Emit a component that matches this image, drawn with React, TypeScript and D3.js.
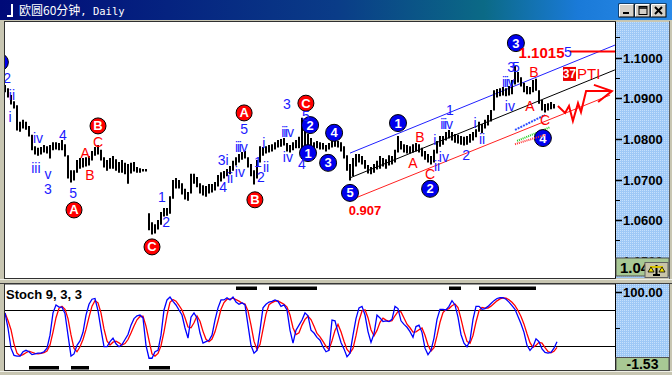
import React from "react";
import * as d3 from "d3";

// ---------- DATA ----------
// hourly bars (high / low), index 0..183
const highs = [
  1.0933,1.0925,1.0908,1.0893,1.0883,1.0842,1.0847,1.0842,1.0832,1.0810,
  1.0782,1.0778,1.0780,1.0785,1.0782,1.0785,1.0792,1.0792,1.0790,1.0797,
  1.0787,1.0760,1.0723,1.0723,1.0748,1.0753,1.0753,1.0755,1.0758,1.0770,
  1.0780,1.0785,1.0773,1.0755,1.0748,1.0753,1.0758,1.0750,1.0743,1.0748,
  1.0741,1.0738,1.0741,1.0743,1.0731,1.0728,1.0726,1.0726,
  1.0617,1.0595,1.0590,1.0600,1.0620,1.0630,1.0630,1.0659,1.0699,1.0704,
  1.0699,1.0691,1.0677,1.0669,1.0714,1.0714,1.0706,1.0691,1.0686,1.0684,
  1.0689,1.0689,1.0694,1.0711,1.0718,1.0721,1.0726,1.0733,1.0746,1.0755,
  1.0763,1.0768,1.0770,1.0755,1.0738,1.0723,1.0748,1.0782,1.0780,1.0782,
  1.0785,1.0787,1.0792,1.0797,1.0800,1.0802,1.0790,1.0785,1.0792,1.0797,
  1.0805,1.0852,1.0834,1.0812,1.0802,1.0792,1.0795,1.0792,1.0790,1.0785,
  1.0790,1.0795,1.0797,1.0795,1.0792,1.0782,1.0760,1.0738,1.0753,1.0763,
  1.0763,1.0758,1.0748,1.0736,1.0731,1.0738,1.0746,1.0758,1.0753,1.0750,
  1.0760,1.0758,1.0773,1.0807,1.0795,1.0787,1.0785,1.0782,1.0787,1.0790,
  1.0787,1.0778,1.0770,1.0763,1.0758,1.0773,1.0795,1.0807,1.0807,1.0817,
  1.0822,1.0817,1.0812,1.0810,1.0807,1.0805,1.0807,1.0812,1.0817,1.0824,
  1.0842,1.0837,1.0847,1.0859,1.0871,1.0920,1.0923,1.0925,1.0928,1.0925,
  1.0930,1.0945,1.0980,1.0965,1.0952,1.0938,1.0930,1.0928,1.0945,1.0948,
  1.0920,1.0896,1.0886,1.0888,1.0891,1.0886,
];
const lows = [
  1.0916,1.0903,1.0886,1.0876,1.0822,1.0819,1.0827,1.0824,1.0807,1.0773,
  1.0763,1.0760,1.0763,1.0768,1.0765,1.0753,1.0773,1.0775,1.0773,1.0773,
  1.0758,1.0704,1.0694,1.0699,1.0718,1.0728,1.0731,1.0733,1.0736,1.0748,
  1.0760,1.0763,1.0748,1.0731,1.0723,1.0728,1.0728,1.0723,1.0718,1.0718,
  1.0714,1.0691,1.0716,1.0721,1.0718,1.0718,1.0721,1.0721,
  1.0576,1.0566,1.0568,1.0578,1.0590,1.0610,1.0612,1.0617,1.0654,1.0679,
  1.0679,1.0664,1.0652,1.0649,1.0667,1.0691,1.0682,1.0667,1.0662,1.0659,
  1.0667,1.0669,1.0674,1.0684,1.0696,1.0704,1.0709,1.0714,1.0723,1.0736,
  1.0743,1.0750,1.0753,1.0731,1.0709,1.0689,1.0704,1.0743,1.0760,1.0765,
  1.0768,1.0770,1.0775,1.0780,1.0782,1.0785,1.0770,1.0768,1.0773,1.0778,
  1.0778,1.0773,1.0785,1.0782,1.0780,1.0773,1.0778,1.0775,1.0775,1.0770,
  1.0775,1.0780,1.0782,1.0780,1.0770,1.0753,1.0723,1.0699,1.0709,1.0733,
  1.0743,1.0738,1.0728,1.0716,1.0714,1.0718,1.0726,1.0728,1.0733,1.0728,
  1.0736,1.0738,1.0743,1.0768,1.0775,1.0768,1.0765,1.0765,1.0768,1.0770,
  1.0768,1.0758,1.0750,1.0743,1.0738,1.0743,1.0765,1.0782,1.0787,1.0797,
  1.0802,1.0797,1.0792,1.0790,1.0787,1.0785,1.0787,1.0792,1.0797,1.0805,
  1.0819,1.0815,1.0827,1.0834,1.0844,1.0871,1.0903,1.0906,1.0908,1.0906,
  1.0908,1.0911,1.0935,1.0940,1.0930,1.0916,1.0911,1.0911,1.0916,1.0920,
  1.0888,1.0871,1.0866,1.0871,1.0874,1.0876,
];
// Stochastic %K (9,3,3), index 0..184
const stochK = [
  71,50,22,12,11,11,17,19,17,13,
  14,15,15,17,22,40,71,82,79,79,
  70,40,11,14,26,32,44,68,83,90,
  91,74,48,24,24,31,36,28,24,27,
  34,41,54,63,67,68,64,26,8,8,
  17,19,40,75,89,93,87,82,75,68,
  50,36,65,71,64,43,29,31,33,40,
  61,78,89,89,92,89,93,86,83,85,
  82,54,26,15,19,47,78,83,86,87,
  89,87,80,82,75,47,29,47,54,61,
  71,67,47,43,37,33,24,17,19,61,
  60,44,30,21,10,15,40,63,78,80,
  68,45,30,42,68,64,59,60,59,62,
  80,77,60,55,51,45,37,52,54,44,
  22,13,19,36,62,76,76,75,80,88,
  82,65,41,29,24,33,62,80,80,76,
  77,80,84,88,91,92,92,90,86,81,
  76,66,56,44,26,19,24,35,31,21,
  16,15,16,22,31,
];
const stochLevels = [75, 25];
const overboughtRuns = [[77, 84], [88, 104], [148, 152], [158, 177]];
const oversoldRuns = [[8, 18], [22, 28], [48, 55]];

const priceTicks = [1.05, 1.06, 1.07, 1.08, 1.09, 1.10];
const priceMinorTicks = [1.055, 1.065, 1.075, 1.085, 1.095, 1.105];
const lastPriceLabel = "1.04";
const stochTopLabel = "100.00";
const stochBottomLabel = "-1.53";

// wave labels: [barIndex, price, text]  (overprinted labels are written as one squeezed string)
const blueLabels: [number, number, string][] = [
  [0.7, 1.0950, "2"], [2.3, 1.0908, "ii"], [1.7, 1.0854, "i"], [11, 1.0802, "iv"],
  [19.3, 1.0810, "4"], [10.3, 1.0728, "iii"], [14.3, 1.0714, "v"], [14.3, 1.0676, "3"],
  [22.7, 1.0667, "5"], [52.3, 1.0657, "1"], [53.7, 1.0595, "2"], [72.7, 1.0748, "3i"],
  [75, 1.0704, "ii"], [72.7, 1.0682, "4"], [78.3, 1.0718, "iv"], [78.6, 1.0780, "iiiv"],
  [79.7, 1.0824, "5"], [84.3, 1.0743, "1"], [85.3, 1.0706, "2"],
  [87, 1.0731, "ii"], [86.3, 1.0790, "i"], [94.3, 1.0755, "iv"], [94, 1.0817, "iiiv"],
  [94, 1.0886, "3"], [100.3, 1.0856, "5"], [99, 1.0738, "4"],
  [144, 1.0733, "ii"], [146.3, 1.0755, "iv"], [143.3, 1.0797, "i"], [147, 1.0837, "iiiv"],
  [148.3, 1.0871, "1"], [153.7, 1.0760, "2"], [156.7, 1.0839, "i"],
  [159, 1.0800, "ii"], [167.6, 1.0940, "iiiv"], [168.3, 1.0881, "iv"],
  [169, 1.0976, "35"], [187.6, 1.1014, "5"],
];
const redLabels: [number, number, string][] = [
  [26.7, 1.0765, "A"], [28.3, 1.0711, "B"], [31, 1.0792, "C"],
  [138.3, 1.0805, "B"], [136, 1.0741, "A"], [141.7, 1.0714, "C"],
  [175, 1.0881, "A"], [176.3, 1.0965, "B"], [180, 1.0847, "C"],
];
const redCircles: [number, number, string][] = [
  [23, 1.0625, "A"], [31, 1.0832, "B"], [49, 1.0534, "C"],
  [79.7, 1.0864, "A"], [83.3, 1.0650, "B"], [100.3, 1.0888, "C"],
];
const blueCircles: [number, number, string][] = [
  [-1.7, 1.0989, "1"], [101.7, 1.0834, "2"], [101, 1.0765, "1"], [109.7, 1.0815, "4"],
  [107.7, 1.0741, "3"], [115, 1.0667, "5"], [131, 1.0839, "1"], [141.7, 1.0677, "2"],
  [170.3, 1.1036, "3"], [179.3, 1.0802, "4"],
];
const ratioLabel: [number, number, string] = [120, 1.0625, "0.907"];
const targetLabel: [number, number, string] = [171.2, 1.1014, "1.1015"];
const targetLevel = 1.1015;
const targetLevelStart = 188.3;
const ptiLabel: [number, number, string, string] = [186, 1.0960, "37", "PTI"];

// trend channel: [i0, p0, i1, p1]
const channelUpper = [115, 1.0765, 203.3, 1.1031];
const channelMid = [115, 1.0704, 203.3, 1.0970];
const channelLower = [116, 1.0652, 201.7, 1.0908];
// projected path
const projection: [number, number][] = [
  [184.3, 1.0881], [186.7, 1.0864], [188, 1.0881], [189.3, 1.0844], [191, 1.0888],
  [192, 1.0866], [193.7, 1.0918], [202.3, 1.0918],
];
const projectionHead: [number, number][] = [[196.3, 1.0933], [202.3, 1.0918], [197.7, 1.0891]];
const fanBlue = [170, 1.0822, 180, 1.0859];
const fanGreen = [170.7, 1.0795, 181.7, 1.0829];
const fanRed = [170, 1.0787, 180, 1.0810];

const SANS = "'Liberation Sans', Arial, sans-serif";

export default function App() {
  const x = d3.scaleLinear().domain([0, 203]).range([5, 614]);
  const y = d3.scaleLinear().domain([1.07, 1.1]).range([179.5, 57.7]);
  const ys = d3.scaleLinear().domain([0, 100]).range([364, 292]);

  // %D = 3-period average of %K (definition of the slow stochastic signal)
  const stochD = stochK.map((_, i) => d3.mean(stochK.slice(Math.max(0, i - 2), i + 1)) as number);
  const sLine = d3.line<number>().x((_, i) => x(i)).y((v) => ys(v));
  const pLine = d3.line<[number, number]>().x((d) => x(d[0])).y((d) => y(d[1]));

  const frame = "#c8c6b2";
  const blue = "#1a1aff";
  const red = "#ff0000";

  const seg = (c: number[], color: string, w: number, dash?: string) => (
    <line x1={x(c[0])} y1={y(c[1])} x2={x(c[2])} y2={y(c[3])} stroke={color} strokeWidth={w} strokeDasharray={dash} />
  );

  const waveText = (i: number, p: number, t: string, color: string, key: string) => {
    const squeezed = t === "iiiv" || t === "35";
    return (
      <text key={key} x={x(i)} y={y(p) + 5} textAnchor="middle" fill={color} fontSize={14} fontFamily={SANS}
        letterSpacing={squeezed ? (t === "35" ? -3 : -1.2) : 0}>
        {t}
      </text>
    );
  };

  return (
    <svg width={672} height={375} style={{ position: "fixed", left: 0, top: 0, display: "block" }}>
      <defs>
        <linearGradient id="title" x1="0" x2="1" y1="0" y2="0">
          <stop offset="0" stopColor="#000a78" />
          <stop offset="0.5" stopColor="#0a3c88" />
          <stop offset="0.72" stopColor="#0b6a86" />
          <stop offset="0.86" stopColor="#1a7ad8" />
          <stop offset="1" stopColor="#2a8ae8" />
        </linearGradient>
        <pattern id="dots" width="2" height="2" patternUnits="userSpaceOnUse">
          <rect width="2" height="2" fill="#9ec8f6" />
          <rect width="1" height="1" fill="#c6e0fc" />
        </pattern>
        <clipPath id="mainClip"><rect x={5} y={22} width={610} height={256} /></clipPath>
        <clipPath id="stochClip"><rect x={5} y={285} width={610} height={85} /></clipPath>
      </defs>

      {/* window frame */}
      <rect x={0} y={0} width={672} height={375} fill={frame} />
      <rect x={0} y={0} width={672} height={20} fill="url(#title)" />
      <path d="M7 15 h4 v-11 h2 v13 h-6 z" fill="#ffffff" />
      <text x={19} y={15} fill="#ffffff" fontSize={12} fontFamily="'Noto Sans CJK SC', sans-serif">
        欧圆60分钟<tspan fontFamily="'DejaVu Sans Mono', monospace" fontSize={10.5}>, Daily</tspan>
      </text>
      {[619, 635, 651].map((bx, k) => (
        <g key={k}>
          <rect x={bx} y={4} width={15} height={13} fill="#d4d0c8" stroke="#000" strokeWidth={1} />
          <line x1={bx + 0.5} y1={4.5} x2={bx + 14.5} y2={4.5} stroke="#fff" />
          <line x1={bx + 0.5} y1={4.5} x2={bx + 0.5} y2={16.5} stroke="#fff" />
        </g>
      ))}
      <rect x={623} y={12} width={6} height={2} fill="#000" />
      <rect x={639} y={6.5} width={8} height={8} fill="none" stroke="#000" strokeWidth={1} />
      <line x1={639} y1={8} x2={647} y2={8} stroke="#000" strokeWidth={1.5} />
      <path d="M655 7 L662 14 M662 7 L655 14" stroke="#000" strokeWidth={2} />

      {/* main panel */}
      <rect x={4.5} y={21.5} width={611} height={257} fill="#ffffff" stroke="#303030" strokeWidth={1} />
      <rect x={616} y={22} width={53} height={256} fill="url(#dots)" />
      <line x1={615.5} y1={22} x2={615.5} y2={278} stroke="#000" />
      <line x1={669.5} y1={21} x2={669.5} y2={279} stroke="#606060" />

      <g clipPath="url(#mainClip)">
        {/* channels */}
        {seg(channelUpper, "#2020ff", 1)}
        {seg(channelMid, "#000000", 1)}
        {seg(channelLower, "#ff2020", 1)}
        {/* bars */}
        {highs.map((h, i) => (
          <line key={i} x1={x(i)} x2={x(i)} y1={y(h)} y2={y(lows[i]) + 0.5} stroke="#000" strokeWidth={2} />
        ))}
        {/* target level */}
        <line x1={x(targetLevelStart)} x2={615} y1={y(targetLevel)} y2={y(targetLevel)} stroke={red} strokeWidth={2} />
        {/* projected path */}
        <path d={pLine(projection) || ""} fill="none" stroke={red} strokeWidth={2} />
        <path d={pLine(projectionHead) || ""} fill="none" stroke={red} strokeWidth={2} />
        {/* fan lines */}
        {seg(fanBlue, "#3050ff", 2, "2,1")}
        {seg(fanGreen, "#20d020", 2, "1,1")}

        {/* circles */}
        {redCircles.map(([i, p, t], k) => (
          <g key={"rc" + k}>
            <circle cx={x(i)} cy={y(p)} r={8} fill="#ff0000" stroke="#000" strokeWidth={1} />
            <text x={x(i)} y={y(p) + 4.5} textAnchor="middle" fill="#fff" fontSize={13} fontWeight="bold" fontFamily={SANS}>{t}</text>
          </g>
        ))}
        {blueCircles.map(([i, p, t], k) => (
          <g key={"bc" + k}>
            <circle cx={x(i)} cy={y(p)} r={8.5} fill="#0000ee" stroke="#000" strokeWidth={1} />
            {x(i) > 10 ? (
              <text x={x(i)} y={y(p) + 4.5} textAnchor="middle" fill="#fff" fontSize={13} fontWeight="bold" fontFamily={SANS}>{t}</text>
            ) : null}
          </g>
        ))}
        {seg(fanRed, "#ff3030", 2, "1,1")}

        {/* wave labels */}
        {blueLabels.map(([i, p, t], k) => waveText(i, p, t, blue, "bl" + k))}
        {redLabels.map(([i, p, t], k) => waveText(i, p, t, red, "rl" + k))}
        <text x={x(ratioLabel[0])} y={y(ratioLabel[1]) + 5} textAnchor="middle" fill={red} fontSize={13} fontWeight="bold" fontFamily={SANS}>{ratioLabel[2]}</text>
        <text x={x(targetLabel[0])} y={y(targetLabel[1]) + 5.5} textAnchor="start" fill={red} fontSize={15} fontWeight="bold" fontFamily={SANS}>{targetLabel[2]}</text>
        <rect x={x(ptiLabel[0])} y={y(ptiLabel[1]) - 7} width={13} height={14} fill="#ee0000" />
        <text x={x(ptiLabel[0]) + 6.5} y={y(ptiLabel[1]) + 4.5} textAnchor="middle" fill="#fff" fontSize={12} fontWeight="bold" fontFamily={SANS}>{ptiLabel[2]}</text>
        <text x={x(ptiLabel[0]) + 14} y={y(ptiLabel[1]) + 5.5} textAnchor="start" fill={red} fontSize={15} fontFamily={SANS}>{ptiLabel[3]}</text>
      </g>

      {/* price axis */}
      {priceMinorTicks.map((p) => (
        <line key={"m" + p} x1={616} x2={620} y1={Math.round(y(p)) + 0.5} y2={Math.round(y(p)) + 0.5} stroke="#000" />
      ))}
      {priceTicks.map((p) => (
        <g key={p}>
          <line x1={616} x2={622} y1={Math.round(y(p)) + 0.5} y2={Math.round(y(p)) + 0.5} stroke="#000" strokeWidth={1.5} />
          <text x={623} y={y(p) + 5} fill="#000" fontSize={13} fontWeight="bold" fontFamily={SANS}>{p.toFixed(4)}</text>
        </g>
      ))}
      <rect x={616} y={258} width={53} height={18} fill="#a8c894" stroke="#505050" strokeWidth={1} />
      <text x={620} y={273} fill="#000" fontSize={15} fontWeight="bold" fontFamily={SANS}>{lastPriceLabel}</text>
      <g>
        <rect x={645} y={262.5} width={23} height={15} fill="#c8c4a8" stroke="#606060" />
        <line x1={656.5} y1={265} x2={656.5} y2={275} stroke="#000" strokeWidth={2} />
        <line x1={650} y1={267} x2={663} y2={267} stroke="#d8c000" strokeWidth={2} />
        <path d="M648 272 L651 267 L654 272 Z M659 272 L662 267 L665 272 Z" fill="#f0e000" stroke="#000" strokeWidth={0.8} />
        <rect x={653} y={274} width={7} height={2} fill="#000" />
      </g>

      {/* separator */}
      <line x1={0} y1={279.5} x2={672} y2={279.5} stroke="#f0f0e8" />
      <line x1={0} y1={283.5} x2={672} y2={283.5} stroke="#404040" />

      {/* stoch panel */}
      <rect x={4.5} y={284} width={611} height={86.5} fill="#ffffff" stroke="#303030" strokeWidth={1} />
      <rect x={616} y={284} width={53} height={86} fill="url(#dots)" />
      <line x1={615.5} y1={284} x2={615.5} y2={370} stroke="#000" />
      <line x1={669.5} y1={284} x2={669.5} y2={371} stroke="#606060" />
      <g clipPath="url(#stochClip)">
        {stochLevels.map((v) => (
          <line key={v} x1={5} x2={615} y1={Math.round(ys(v)) + 0.5} y2={Math.round(ys(v)) + 0.5} stroke="#000" />
        ))}
        {overboughtRuns.map(([a, b], k) => (
          <rect key={"ob" + k} x={x(a)} y={286.5} width={x(b) - x(a)} height={3.5} fill="#000" />
        ))}
        {oversoldRuns.map(([a, b], k) => (
          <rect key={"os" + k} x={x(a)} y={366} width={x(b) - x(a)} height={3.5} fill="#000" />
        ))}
        <path d={sLine(stochD) || ""} fill="none" stroke="#ff0000" strokeWidth={1.3} />
        <path d={sLine(stochK) || ""} fill="none" stroke="#0000ff" strokeWidth={1.3} />
        <text x={6} y={299} fill="#000" fontSize={13} fontWeight="bold" fontFamily={SANS}>Stoch 9, 3, 3</text>
      </g>
      <line x1={616} x2={622} y1={Math.round(ys(100)) + 0.5} y2={Math.round(ys(100)) + 0.5} stroke="#000" strokeWidth={1.5} />
      <text x={623} y={ys(100) + 5} fill="#000" fontSize={13} fontWeight="bold" fontFamily={SANS}>{stochTopLabel}</text>
      <line x1={616} x2={620} y1={Math.round(ys(50)) + 0.5} y2={Math.round(ys(50)) + 0.5} stroke="#000" />
      <rect x={616} y={357.5} width={53} height={13} fill="#a8c894" stroke="#505050" strokeWidth={1} />
      <text x={642.5} y={369} textAnchor="middle" fill="#000" fontSize={14} fontWeight="bold" fontFamily={SANS}>{stochBottomLabel}</text>
      <line x1={0} y1={371.5} x2={672} y2={371.5} stroke="#f0f0e8" />
    </svg>
  );
}
